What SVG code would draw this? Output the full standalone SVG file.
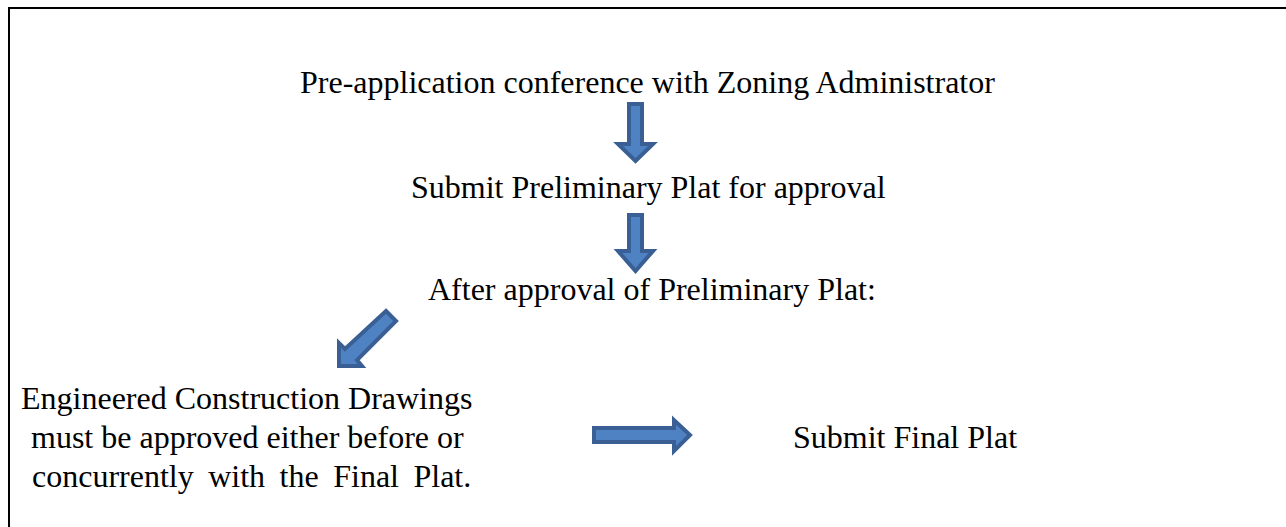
<svg xmlns="http://www.w3.org/2000/svg" width="1286" height="527" viewBox="0 0 1286 527">
  <style>
    .t { font-family: "Liberation Serif", "Times New Roman", serif; font-size: 32px; fill: #000; }
    .arr { fill: #4F82C2; stroke: #3A5F94; stroke-width: 4; stroke-linejoin: miter; }
  </style>
  <rect width="1286" height="527" fill="#fff"/>
  <!-- page frame (right and bottom edges run off the page) -->
  <rect x="9" y="8" width="1300" height="560" fill="none" stroke="#000" stroke-width="2"/>

  <g id="step-preapp">
    <text class="t" x="300" y="93">Pre-application conference with Zoning Administrator</text>
  </g>
  <g id="step-preliminary">
    <text class="t" x="411" y="198">Submit Preliminary Plat for approval</text>
  </g>
  <g id="step-after-approval">
    <text class="t" x="428" y="300">After approval of Preliminary Plat:</text>
  </g>
  <g id="step-construction">
    <text class="t" x="21" y="409">Engineered Construction Drawings</text>
    <text class="t" x="31" y="448">must be approved either before or</text>
    <text class="t" x="32" y="487" word-spacing="6.5">concurrently with the Final Plat.</text>
  </g>
  <g id="step-final">
    <text class="t" x="793" y="448">Submit Final Plat</text>
  </g>

  <g id="connectors">
    <!-- down arrow 1 -->
    <path class="arr" d="M629,104 L642,104 L642,144 L653,144 L635.5,161 L618,144 L629,144 Z"/>
    <!-- down arrow 2 -->
    <path class="arr" d="M629,215 L642,215 L642,251 L653,251 L635.5,271 L618,251 L629,251 Z"/>
    <!-- diagonal arrow to the lower left -->
    <path class="arr" d="M386,311 L396,321 L357,360 L362,366 L339,366 L339,343 L345,349 Z"/>
    <!-- right arrow -->
    <path class="arr" d="M594,428 L674,428 L674,420 L690,435 L674,451 L674,442 L594,442 Z"/>
  </g>
</svg>
